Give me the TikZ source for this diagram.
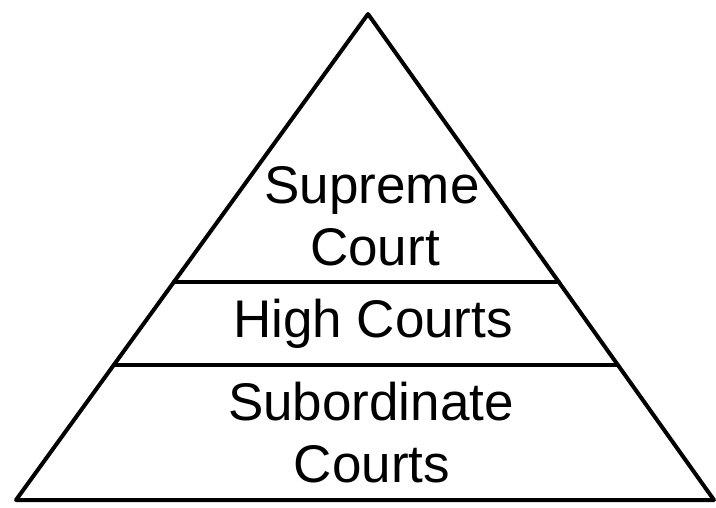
\documentclass[tikz,border=0pt]{standalone}
\usepackage{fontspec}
\setmainfont{Liberation Sans}
\usetikzlibrary{calc}
\begin{document}
\begin{tikzpicture}[x=1pt,y=-1pt,
  edge/.style={line width=4pt,line join=round,line cap=round},
  label/.style={font=\fontsize{53}{62}\selectfont,inner sep=0pt,anchor=base}]
\useasboundingbox (0,0) rectangle (716,507);
\coordinate (apex) at (368,14);
\coordinate (bl) at (16,500);
\coordinate (br) at (714,500);
\draw[edge] (apex) -- (bl) -- (br) -- cycle;
\coordinate (l1) at ($(apex)!0.5514!(bl)$);
\coordinate (r1) at ($(apex)!0.5514!(br)$);
\coordinate (l2) at ($(apex)!0.7222!(bl)$);
\coordinate (r2) at ($(apex)!0.7222!(br)$);
\draw[edge] (l1) -- (r1);
\draw[edge] (l2) -- (r2);
\node[label] (sup1) at (372,203) {Supreme};
\node[label] (sup2) at (375,265) {Court};
\node[label] (high) at (373,337) {High Courts};
\node[label] (sub1) at (371,420) {Subordinate};
\node[label] (sub2) at (372,482) {Courts};
\end{tikzpicture}
\end{document}
